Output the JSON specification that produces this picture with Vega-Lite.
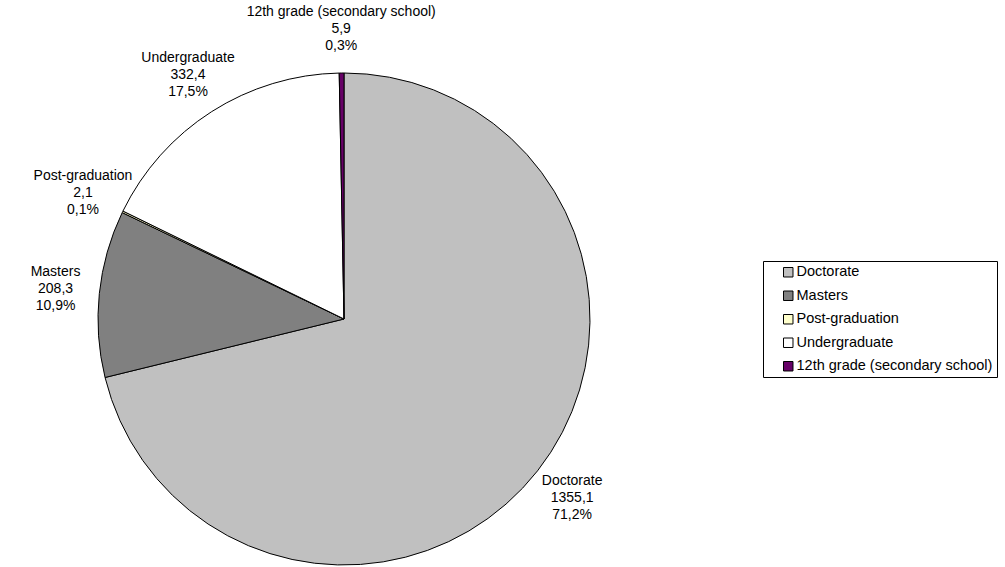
{
  "$schema": "https://vega.github.io/schema/vega-lite/v6.json",
  "autosize": {"type": "none"},
  "padding": {"top": 73, "left": 0, "right": 317, "bottom": 2},
  "width": 688,
  "height": 492,
  "background": "white",
  "data": {
    "values": [
      {"rank": 1, "category": "Doctorate", "value": 1355.1},
      {"rank": 2, "category": "Masters", "value": 208.3},
      {"rank": 3, "category": "Post-graduation", "value": 2.1},
      {"rank": 4, "category": "Undergraduate", "value": 332.4},
      {"rank": 5, "category": "12th grade (secondary school)", "value": 5.9}
    ]
  },
  "transform": [
    {"joinaggregate": [{"op": "sum", "field": "value", "as": "total"}]},
    {"calculate": "datum.category + '\\n' + replace(format(datum.value, '.1f'), '.', ',') + '\\n' + replace(format(datum.value / datum.total, '.1%'), '.', ',')", "as": "label"}
  ],
  "encoding": {
    "theta": {"field": "value", "type": "quantitative", "stack": true},
    "order": {"field": "rank", "type": "quantitative"}
  },
  "layer": [
    {
      "mark": {"type": "arc", "outerRadius": 246, "stroke": "black", "strokeWidth": 1},
      "encoding": {
        "color": {
          "field": "category",
          "type": "nominal",
          "sort": null,
          "scale": {
            "domain": ["Doctorate", "Masters", "Post-graduation", "Undergraduate", "12th grade (secondary school)"],
            "range": ["#C0C0C0", "#808080", "#FFFFCC", "#FFFFFF", "#660066"]
          },
          "legend": {
            "orient": "none",
            "legendX": 763,
            "legendY": 188,
            "title": null,
            "strokeColor": "black",
            "fillColor": "white",
            "padding": 4,
            "symbolOffset": 14,
            "symbolType": "square",
            "symbolSize": 90,
            "symbolStrokeColor": "black",
            "symbolStrokeWidth": 1,
            "symbolOpacity": 1,
            "labelFont": "Liberation Sans",
            "labelFontSize": 14.5,
            "labelColor": "black",
            "labelOffset": 1,
            "labelLimit": 400,
            "rowPadding": 8.5
          }
        }
      }
    },
    {
      "mark": {"type": "text", "radius": 290, "font": "Liberation Sans", "fontSize": 14, "color": "black", "align": "center", "baseline": "middle", "lineBreak": "\n", "lineHeight": 17, "dy": -17},
      "encoding": {
        "text": {"field": "label", "type": "nominal"}
      }
    }
  ],
  "config": {"view": {"stroke": null}}
}
